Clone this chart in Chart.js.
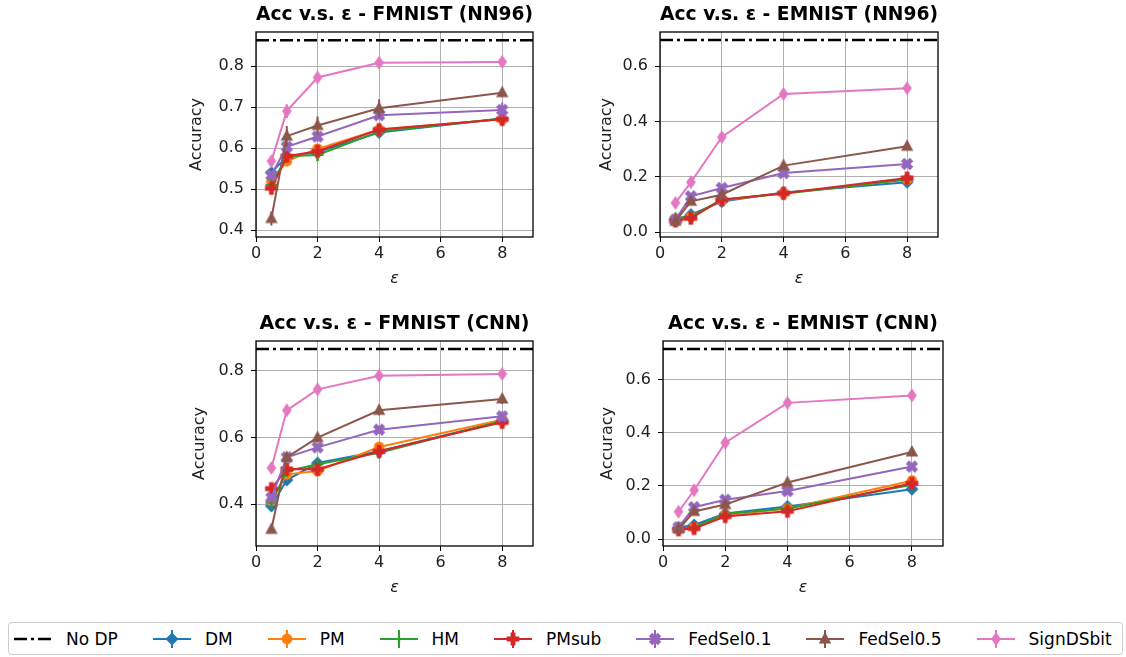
<!DOCTYPE html>
<html>
<head>
<meta charset="utf-8">
<script src="https://cdn.jsdelivr.net/npm/chart.js@4.4.0/dist/chart.umd.min.js"></script>
<style>
body { margin: 0; background: #fff; font-family: "DejaVu Sans", sans-serif; }
#wrap { position: relative; width: 1126px; height: 657px; overflow: hidden; }
canvas.panel { position: absolute; }
#legend { position: absolute; left: 8px; top: 622px; width: 1115px; height: 33px; box-sizing: border-box;
  border: 1px solid #ccc; border-radius: 4px; display: flex; align-items: center; padding-left: 5px;
  font-size: 17px; color: #000; }
.item { display: flex; align-items: center; margin-right: 35px; }
.item span { margin-left: 14px; white-space: nowrap; }
</style>
</head>
<body>
<div id="wrap">
  <canvas class="panel" id="p0"></canvas>
  <canvas class="panel" id="p1"></canvas>
  <canvas class="panel" id="p2"></canvas>
  <canvas class="panel" id="p3"></canvas>
  <div id="legend"></div>
</div>
<script>
// data
var eps = [0.5, 1, 2, 4, 8];
var methods = ['DM', 'PM', 'HM', 'PMsub', 'FedSel0.1', 'FedSel0.5', 'SignDSbit'];
var noDP = [0.863, 0.694, 0.866, 0.716];
var titles = ['Acc v.s. ε - FMNIST (NN96)', 'Acc v.s. ε - EMNIST (NN96)',
              'Acc v.s. ε - FMNIST (CNN)', 'Acc v.s. ε - EMNIST (CNN)'];
var xTicks = [0, 2, 4, 6, 8];
var xLim = [0, 9];

var accFmnistNN96 = [
  [0.540, 0.579, 0.590, 0.638, 0.672],
  [0.518, 0.568, 0.598, 0.645, 0.670],
  [0.510, 0.580, 0.583, 0.640, 0.672],
  [0.502, 0.580, 0.592, 0.645, 0.670],
  [0.534, 0.603, 0.628, 0.680, 0.693],
  [0.428, 0.629, 0.655, 0.697, 0.735],
  [0.568, 0.690, 0.772, 0.808, 0.810]
];
var errFmnistNN96 = [
  [0.005, 0.008, 0.008, 0.008, 0.006],
  [0.008, 0.012, 0.010, 0.010, 0.010],
  [0.010, 0.010, 0.015, 0.012, 0.010],
  [0.015, 0.010, 0.010, 0.010, 0.015],
  [0.010, 0.010, 0.012, 0.010, 0.018],
  [0.017, 0.025, 0.022, 0.022, 0.010],
  [0.010, 0.017, 0.008, 0.006, 0.005]
];
var accEmnistNN96 = [
  [0.045, 0.063, 0.110, 0.143, 0.180],
  [0.045, 0.055, 0.115, 0.140, 0.190],
  [0.050, 0.055, 0.118, 0.138, 0.190],
  [0.040, 0.050, 0.117, 0.140, 0.195],
  [0.045, 0.129, 0.159, 0.213, 0.246],
  [0.039, 0.111, 0.135, 0.240, 0.310],
  [0.105, 0.180, 0.343, 0.499, 0.520]
];
var errEmnistNN96 = [
  [0.005, 0.006, 0.006, 0.008, 0.008],
  [0.005, 0.005, 0.006, 0.008, 0.008],
  [0.008, 0.005, 0.006, 0.008, 0.008],
  [0.005, 0.006, 0.006, 0.006, 0.008],
  [0.005, 0.010, 0.008, 0.010, 0.010],
  [0.008, 0.010, 0.010, 0.010, 0.010],
  [0.008, 0.010, 0.010, 0.010, 0.010]
];
var accFmnistCNN = [
  [0.395, 0.473, 0.524, 0.559, 0.649],
  [0.410, 0.490, 0.500, 0.572, 0.654],
  [0.405, 0.500, 0.520, 0.555, 0.650],
  [0.447, 0.506, 0.505, 0.559, 0.646],
  [0.420, 0.541, 0.571, 0.624, 0.664],
  [0.325, 0.541, 0.600, 0.682, 0.716],
  [0.509, 0.682, 0.745, 0.786, 0.791]
];
var errFmnistCNN = [
  [0.010, 0.010, 0.010, 0.010, 0.008],
  [0.010, 0.010, 0.010, 0.010, 0.008],
  [0.010, 0.010, 0.010, 0.010, 0.008],
  [0.010, 0.010, 0.010, 0.010, 0.008],
  [0.010, 0.012, 0.010, 0.012, 0.015],
  [0.012, 0.015, 0.012, 0.015, 0.015],
  [0.012, 0.015, 0.010, 0.010, 0.010]
];
var accEmnistCNN = [
  [0.044, 0.053, 0.096, 0.123, 0.188],
  [0.040, 0.045, 0.090, 0.115, 0.220],
  [0.040, 0.045, 0.095, 0.115, 0.205],
  [0.035, 0.040, 0.085, 0.105, 0.210],
  [0.044, 0.120, 0.148, 0.181, 0.273],
  [0.038, 0.104, 0.130, 0.213, 0.328],
  [0.103, 0.184, 0.363, 0.513, 0.541]
];
var errEmnistCNN = [
  [0.005, 0.006, 0.006, 0.008, 0.008],
  [0.005, 0.005, 0.006, 0.008, 0.008],
  [0.006, 0.005, 0.006, 0.008, 0.008],
  [0.005, 0.006, 0.006, 0.008, 0.008],
  [0.005, 0.008, 0.008, 0.010, 0.010],
  [0.008, 0.008, 0.010, 0.010, 0.010],
  [0.008, 0.010, 0.010, 0.010, 0.010]
];
var yTicksFmnistNN96 = [0.4, 0.5, 0.6, 0.7, 0.8];
var yTicksEmnistNN96 = [0.0, 0.2, 0.4, 0.6];
var yTicksFmnistCNN = [0.4, 0.6, 0.8];
var yTicksEmnistCNN = [0.0, 0.2, 0.4, 0.6];
var yLimFmnistNN96 = [0.383, 0.883];
var yLimEmnistNN96 = [-0.018, 0.723];
var yLimFmnistCNN = [0.275, 0.89];
var yLimEmnistCNN = [-0.026, 0.746];

var panelAcc = [accFmnistNN96, accEmnistNN96, accFmnistCNN, accEmnistCNN];
var panelErr = [errFmnistNN96, errEmnistNN96, errFmnistCNN, errEmnistCNN];
var panelTicks = [yTicksFmnistNN96, yTicksEmnistNN96, yTicksFmnistCNN, yTicksEmnistCNN];
var panelLim = [yLimFmnistNN96, yLimEmnistNN96, yLimFmnistCNN, yLimEmnistCNN];

// styles / layout
var colors = ['#1f77b4', '#ff7f0e', '#2ca02c', '#d62728', '#9467bd', '#8c564b', '#e377c2'];
var shapes = ['D', 'o', '+', 'P', 'X', '^', 'd'];
var boxes = [
  { left: 180, top: 0, width: 370, yTitlePad: 7 },
  { left: 584, top: 0, width: 371, yTitlePad: 13 },
  { left: 180, top: 309, width: 370, yTitlePad: 10 },
  { left: 587, top: 309, width: 373, yTitlePad: 11 }
];
var tickFont = { family: 'DejaVu Sans', size: 16 };
var textCol = '#222';

function drawMarker(g, shape, color, cx, cy) {
  g.save();
  g.translate(cx, cy);
  g.fillStyle = color;
  g.strokeStyle = color;
  g.beginPath();
  if (shape === 'D') {
    g.moveTo(0, -6.5); g.lineTo(6.5, 0); g.lineTo(0, 6.5); g.lineTo(-6.5, 0); g.closePath(); g.fill();
  } else if (shape === 'o') {
    g.arc(0, 0, 5.4, 0, Math.PI * 2); g.fill();
  } else if (shape === '+') {
    g.lineWidth = 2.2;
    g.moveTo(-6, 0); g.lineTo(6, 0); g.moveTo(0, -6); g.lineTo(0, 6); g.stroke();
  } else if (shape === 'P' || shape === 'X') {
    if (shape === 'X') g.rotate(Math.PI / 4);
    var a = 6.4, b = 2.4;
    g.moveTo(-b, -a); g.lineTo(b, -a); g.lineTo(b, -b); g.lineTo(a, -b); g.lineTo(a, b); g.lineTo(b, b);
    g.lineTo(b, a); g.lineTo(-b, a); g.lineTo(-b, b); g.lineTo(-a, b); g.lineTo(-a, -b); g.lineTo(-b, -b);
    g.closePath(); g.fill();
  } else if (shape === '^') {
    g.moveTo(0, -7); g.lineTo(6.2, 4.6); g.lineTo(-6.2, 4.6); g.closePath(); g.fill();
  } else if (shape === 'd') {
    g.moveTo(0, -7); g.lineTo(4.8, 0); g.lineTo(0, 7); g.lineTo(-4.8, 0); g.closePath(); g.fill();
  }
  g.restore();
}

function markerCanvas(shape, color) {
  var c = document.createElement('canvas');
  c.width = 16; c.height = 16;
  drawMarker(c.getContext('2d'), shape, color, 8, 8);
  return c;
}
var markerImgs = shapes.map(function (s, i) { return markerCanvas(s, colors[i]); });

var frame = {
  id: 'frame',
  afterDraw: function (chart) {
    var a = chart.chartArea, g = chart.ctx;
    g.save();
    g.strokeStyle = '#000';
    g.lineWidth = 1.3;
    g.strokeRect(a.left, a.top, a.right - a.left, a.bottom - a.top);
    g.restore();
  }
};

// vertical error bars, drawn just under each series
var errorBars = {
  id: 'errorBars',
  beforeDatasetDraw: function (chart, args) {
    var ds = chart.data.datasets[args.index];
    if (!ds.err) return;
    var g = chart.ctx, ys = chart.scales.y, xs = chart.scales.x;
    g.save();
    g.strokeStyle = ds.borderColor;
    g.lineWidth = 2;
    g.beginPath();
    ds.data.forEach(function (pt, k) {
      var x = xs.getPixelForValue(pt.x);
      g.moveTo(x, ys.getPixelForValue(pt.y - ds.err[k]));
      g.lineTo(x, ys.getPixelForValue(pt.y + ds.err[k]));
    });
    g.stroke();
    g.restore();
  }
};

panelAcc.forEach(function (acc, p) {
  var b = boxes[p];
  var cv = document.getElementById('p' + p);
  cv.width = b.width; cv.height = 300;
  cv.style.left = b.left + 'px'; cv.style.top = b.top + 'px';

  var datasets = [{
    label: 'No DP',
    data: [{ x: xLim[0], y: noDP[p] }, { x: xLim[1], y: noDP[p] }],
    borderColor: '#000', borderWidth: 2.5, borderDash: [13, 4, 3, 4],
    pointRadius: 0, order: methods.length + 1
  }];
  methods.forEach(function (m, i) {
    datasets.push({
      label: m,
      data: eps.map(function (e, k) { return { x: e, y: acc[i][k] }; }),
      err: panelErr[p][i],
      borderColor: colors[i], backgroundColor: colors[i], borderWidth: 2,
      pointStyle: markerImgs[i], pointRadius: 6, tension: 0,
      order: methods.length - i
    });
  });

  new Chart(cv, {
    type: 'line',
    data: { datasets: datasets },
    plugins: [errorBars, frame],
    options: {
      responsive: false, devicePixelRatio: 1, animation: false,
      layout: { padding: { right: 17 } },
      plugins: {
        legend: { display: false },
        tooltip: { enabled: false },
        title: {
          display: true, text: titles[p], fullSize: false, color: '#000',
          font: { family: 'DejaVu Sans', size: 19, weight: 'bold' },
          padding: { top: 3.6, bottom: 5.6 }
        }
      },
      scales: {
        x: {
          type: 'linear', min: xLim[0], max: xLim[1],
          afterBuildTicks: function (s) { s.ticks = xTicks.map(function (v) { return { value: v }; }); },
          afterFit: function (s) { s.height = 63; },
          ticks: { font: tickFont, color: textCol, padding: 2, maxRotation: 0,
                   callback: function (v) { return String(v); } },
          grid: { color: '#b0b0b0', lineWidth: 1, tickLength: 5, tickColor: '#000' },
          border: { display: false },
          title: { display: true, text: 'ε', color: textCol,
                   font: { family: 'DejaVu Sans', size: 16, style: 'italic' }, padding: { bottom: 12 } }
        },
        y: {
          type: 'linear', min: panelLim[p][0], max: panelLim[p][1],
          afterBuildTicks: function (s) { s.ticks = panelTicks[p].map(function (v) { return { value: v }; }); },
          afterFit: function (s) { s.width = 76; },
          ticks: { font: tickFont, color: textCol, padding: 7,
                   callback: function (v) { return v.toFixed(1); } },
          grid: { color: '#b0b0b0', lineWidth: 1, tickLength: 5, tickColor: '#000' },
          border: { display: false },
          title: { display: true, text: 'Accuracy', color: textCol,
                   font: { family: 'DejaVu Sans', size: 16 }, padding: { top: b.yTitlePad } }
        }
      }
    }
  });
});

// legend
var legend = document.getElementById('legend');
function addItem(label, draw) {
  var it = document.createElement('div');
  it.className = 'item';
  var c = document.createElement('canvas');
  c.width = 38; c.height = 22;
  draw(c.getContext('2d'));
  var sp = document.createElement('span');
  sp.textContent = label;
  it.appendChild(c); it.appendChild(sp);
  legend.appendChild(it);
}
addItem('No DP', function (g) {
  g.strokeStyle = '#000'; g.lineWidth = 2.5; g.setLineDash([13, 4, 3, 4]);
  g.beginPath(); g.moveTo(0, 11); g.lineTo(38, 11); g.stroke();
});
methods.forEach(function (m, i) {
  addItem(m, function (g) {
    g.strokeStyle = colors[i]; g.lineWidth = 2;
    g.beginPath(); g.moveTo(0, 11); g.lineTo(38, 11); g.moveTo(19, 2); g.lineTo(19, 20); g.stroke();
    drawMarker(g, shapes[i], colors[i], 19, 11);
  });
});
</script>
</body>
</html>
